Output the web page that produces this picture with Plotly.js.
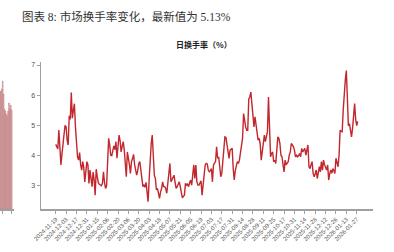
<!DOCTYPE html>
<html>
<head>
<meta charset="utf-8">
<script src="https://cdn.plot.ly/plotly-3.0.1.min.js"></script>
<style>html,body{margin:0;padding:0;background:#fff;}#chart{width:394px;height:252px;}</style>
</head>
<body>
<div id="chart"></div>
<script>
// Daily turnover rate (%), one value per trading day from 2024-11-19
const turnover = [
  4.37,4.3,4.22,4.85,4.2,3.69,4.05,4.3,4.7,5.0,
  4.95,4.5,4.35,5.32,5.2,6.09,5.24,5.5,5.72,4.95,
  4.4,3.96,3.85,4.1,3.7,3.52,3.8,3.6,3.13,3.5,
  3.8,3.7,3.08,3.52,3.3,2.97,3.45,3.2,2.69,3.55,
  3.3,3.1,3.05,3.02,3.0,3.08,3.46,3.1,2.91,3.0,
  3.6,4.57,4.35,4.01,4.0,4.25,4.32,4.2,4.46,3.91,
  4.3,4.68,4.5,4.12,4.3,4.46,4.2,3.6,3.3,4.12,
  3.96,3.7,3.41,3.8,3.9,4.04,3.7,3.46,3.35,3.5,
  3.74,3.8,3.5,3.26,2.97,3.02,2.95,3.11,2.8,2.47,
  3.2,4.01,4.4,4.68,4.0,3.35,3.24,2.86,2.91,2.7,
  2.58,2.8,2.91,3.13,2.97,2.97,2.9,2.75,3.1,3.52,
  3.74,3.13,3.2,3.24,3.35,3.1,2.91,2.97,3.05,3.13,
  2.97,2.8,2.6,2.65,2.69,3.08,3.02,3.05,2.97,3.1,
  3.19,3.02,3.3,3.69,3.24,3.69,3.13,3.02,3.02,3.13,
  3.16,2.69,3.02,3.4,3.69,3.74,3.72,3.52,3.46,3.5,
  3.57,3.13,3.69,3.75,3.8,4.29,3.91,3.96,3.6,3.3,
  3.41,3.8,4.2,4.62,4.6,4.35,4.1,3.91,4.18,4.2,
  4.24,3.57,3.19,3.5,3.63,3.8,3.74,3.85,4.1,4.4,
  4.57,5.39,5.1,4.95,4.84,4.84,5.88,5.94,6.1,5.66,
  5.2,4.95,5.28,4.95,4.7,4.51,4.57,4.4,3.85,4.2,
  4.4,4.68,4.46,4.68,4.79,5.94,5.12,3.96,4.07,4.12,
  3.8,3.85,3.74,4.3,4.62,4.57,4.4,4.01,3.96,3.7,
  3.46,3.85,3.69,3.75,3.8,4.01,4.12,4.4,4.35,4.3,
  4.18,3.96,4.01,3.96,4.0,4.07,3.96,4.24,4.12,4.2,
  4.24,4.01,4.2,4.35,3.63,3.57,3.7,3.8,3.41,3.3,
  3.4,3.52,3.24,3.45,3.63,3.46,3.8,3.52,3.85,3.7,
  3.57,3.52,3.69,3.19,3.4,3.52,3.41,3.57,3.5,3.41,
  3.91,3.8,3.63,4.0,4.84,4.8,4.79,5.5,6.21,6.5,
  6.82,5.88,4.99,5.06,4.8,4.62,4.9,5.28,5.72,5.2,
  4.99,5.13
];

// x tick labels, one every 10 trading days
const tickLabels = [
  "2024-11-19","2024-12-03","2024-12-17","2024-12-31","2025-01-15",
  "2025-02-06","2025-02-20","2025-03-06","2025-03-20","2025-04-03",
  "2025-04-18","2025-05-07","2025-05-21","2025-06-05","2025-06-19",
  "2025-07-03","2025-07-17","2025-07-31","2025-08-14","2025-08-28",
  "2025-09-11","2025-09-25","2025-10-17","2025-10-31","2025-11-14",
  "2025-11-28","2025-12-12","2025-12-26","2026-01-13","2026-01-27"
];
const tickStep = 10;

// Cropped neighbouring chart at the left edge (bar heights, own units)
const fragValues = [117,118,120,128,115,100,98,95,93,98,106,100,104,99];
const fragOffset = -3;
const fragTickLabels = ["2026-01-13","2026-01-27"];

const mainTitle = "图表 8: 市场换手率变化，最新值为 5.13%";
const chartTitle = "日换手率（%）";

const xIdx = turnover.map((_, i) => i);
const tickVals = tickLabels.map((_, k) => k * tickStep);
const fragX = fragValues.map((_, i) => i + fragOffset);

const W = 394, H = 252;
const xDom = [41 / W, 373 / W];
const yDom = [1 - 209 / H, 1 - 62 / H];

const traces = [
  {
    type: 'scatter', mode: 'lines', x: xIdx, y: turnover,
    line: {color: '#c1272d', width: 1.4},
    xaxis: 'x', yaxis: 'y', hoverinfo: 'skip'
  },
  {
    type: 'bar', x: fragX, y: fragValues,
    marker: {color: '#dcaeae', line: {color: '#bf7c7c', width: 0.5}},
    width: 0.85, xaxis: 'x2', yaxis: 'y2', hoverinfo: 'skip'
  }
];

const axisCommon = {
  showgrid: false, zeroline: false, showline: true,
  linecolor: '#a0a0a0', linewidth: 1.5,
  ticks: 'outside', ticklen: 3, tickwidth: 1, tickcolor: '#a0a0a0'
};

const layout = {
  width: W, height: H,
  margin: {l: 0, r: 0, t: 0, b: 0, pad: 0},
  paper_bgcolor: '#ffffff', plot_bgcolor: '#ffffff',
  showlegend: false,
  title: {
    text: mainTitle,
    x: 22 / W, xanchor: 'left', xref: 'paper',
    y: 1 - 17 / H, yanchor: 'middle', yref: 'paper',
    font: {family: 'Liberation Serif, Noto Sans CJK SC, serif', size: 11.5, color: '#333'}
  },
  annotations: [{
    text: '<b>' + chartTitle + '</b>',
    xref: 'paper', yref: 'paper', x: 204 / W, y: 1 - 44 / H,
    xanchor: 'center', yanchor: 'middle', showarrow: false,
    font: {family: 'Noto Sans CJK SC, sans-serif', size: 8, color: '#222'}
  }],
  xaxis: Object.assign({}, axisCommon, {
    domain: xDom, anchor: 'y',
    range: [-14.2, 305.7],
    tickmode: 'array', tickvals: tickVals, ticktext: tickLabels,
    tickangle: -45,
    tickfont: {family: 'Liberation Sans, Arial, sans-serif', size: 6, color: '#555'}
  }),
  yaxis: Object.assign({}, axisCommon, {
    domain: yDom, anchor: 'x',
    range: [2.23, 7.10],
    tickmode: 'linear', tick0: 3, dtick: 1,
    tickfont: {family: 'Liberation Sans, Arial, sans-serif', size: 7, color: '#555'}
  }),
  xaxis2: Object.assign({}, axisCommon, {
    domain: [0, 14 / W], anchor: 'y2',
    range: [-3, 12.56],
    tickmode: 'array', tickvals: fragTickLabels.map((_, k) => k * tickStep), ticktext: fragTickLabels,
    tickangle: -45,
    tickfont: {family: 'Liberation Sans, Arial, sans-serif', size: 6, color: '#555'}
  }),
  yaxis2: {
    domain: yDom, anchor: 'x2', range: [0, 147], visible: false, fixedrange: true
  },
  bargap: 0.1
};

Plotly.newPlot('chart', traces, layout, {staticPlot: true, displayModeBar: false});
</script>
</body>
</html>
